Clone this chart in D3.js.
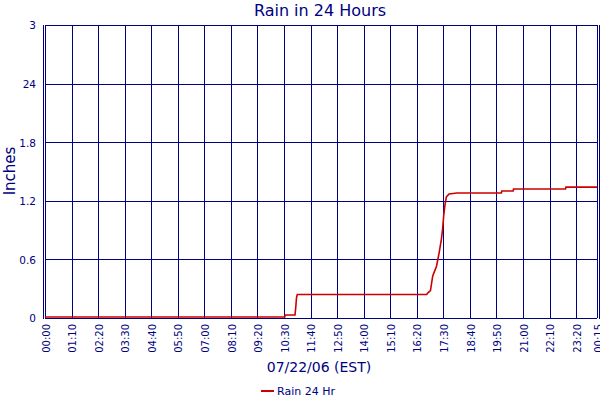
<!DOCTYPE html>
<html><head><meta charset="utf-8">
<script src="https://cdn.jsdelivr.net/npm/d3@7"></script>
<style>body{margin:0;background:#fff}svg{display:block;font-family:"DejaVu Sans",Verdana,sans-serif}</style>
</head><body><svg id="c" width="600" height="400"></svg>
<script>
const chartTitle = "Rain in 24 Hours";
const xTitle = "07/22/06 (EST)";
const yTitle = "Inches";
const seriesName = "Rain 24 Hr";
const xTickLabels = ["00:00","01:10","02:20","03:30","04:40","05:50","07:00","08:10","09:20","10:30","11:40","12:50","14:00","15:10","16:20","17:30","18:40","19:50","21:00","22:10","23:20","00:15"];
const xTickDates = ["2006-07-22 00:00","2006-07-22 01:10","2006-07-22 02:20","2006-07-22 03:30","2006-07-22 04:40","2006-07-22 05:50","2006-07-22 07:00","2006-07-22 08:10","2006-07-22 09:20","2006-07-22 10:30","2006-07-22 11:40","2006-07-22 12:50","2006-07-22 14:00","2006-07-22 15:10","2006-07-22 16:20","2006-07-22 17:30","2006-07-22 18:40","2006-07-22 19:50","2006-07-22 21:00","2006-07-22 22:10","2006-07-22 23:20","2006-07-23 00:15"];
const yTickValues = [0, 0.6, 1.2, 1.8, 2.4, 3];
const yTickLabels = ["0", "0.6", "1.2", "1.8", "24", "3"];
const times = ["2006-07-22 00:00","2006-07-22 10:32","2006-07-22 10:33","2006-07-22 10:59","2006-07-22 11:01","2006-07-22 11:03","2006-07-22 11:05","2006-07-22 16:46","2006-07-22 16:50","2006-07-22 16:56","2006-07-22 17:02","2006-07-22 17:07","2006-07-22 17:12","2006-07-22 17:19","2006-07-22 17:25","2006-07-22 17:28","2006-07-22 17:31","2006-07-22 17:34","2006-07-22 17:38","2006-07-22 17:45","2006-07-22 18:06","2006-07-22 20:03","2006-07-22 20:04","2006-07-22 20:34","2006-07-22 20:35","2006-07-22 22:52","2006-07-22 22:53","2006-07-23 00:15"];
const rain = [0,0,0.02,0.02,0.1,0.2,0.23,0.23,0.25,0.27,0.42,0.47,0.52,0.66,0.8,0.9,1.04,1.14,1.23,1.26,1.27,1.27,1.29,1.29,1.31,1.31,1.33,1.33];

const parse = d3.timeParse("%Y-%m-%d %H:%M");
const svg = d3.select("#c");
const navy = "#000080";
const pL = 45, pR = 597, pT = 25, pB = 318;

const x = d3.scaleTime().domain([parse(xTickDates[0]), parse(xTickDates[xTickDates.length-1])]).range([pL, pR]);
const y = d3.scaleLinear().domain([0, 3]).range([pB, pT]);

// grid
const tickDates = xTickDates.map(parse);
svg.append("g").selectAll("line").data(tickDates).join("line")
  .attr("x1", d => Math.round(x(d)) + 0.5).attr("x2", d => Math.round(x(d)) + 0.5)
  .attr("y1", pT).attr("y2", pB).attr("stroke", navy).attr("stroke-width", 1);
svg.append("g").selectAll("line").data(yTickValues).join("line")
  .attr("x1", pL).attr("x2", pR)
  .attr("y1", d => Math.round(y(d)) + 0.5).attr("y2", d => Math.round(y(d)) + 0.5)
  .attr("stroke", navy).attr("stroke-width", 1);
// double borders
svg.append("line").attr("x1", pL - 1.5).attr("x2", pL - 1.5).attr("y1", pT).attr("y2", pB + 1).attr("stroke", navy);
svg.append("line").attr("x1", pR + 2.5).attr("x2", pR + 2.5).attr("y1", pT).attr("y2", pB + 1).attr("stroke", navy);

// axes
const xAxis = d3.axisBottom(x).tickValues(tickDates).tickSize(0).tickFormat((d, i) => xTickLabels[i]);
const gx = svg.append("g").attr("transform", `translate(0.5,${pB})`).call(xAxis);
gx.select(".domain").remove();
gx.selectAll("text").attr("transform", "rotate(-90)").attr("text-anchor", "end")
  .attr("x", -6).attr("y", 0).attr("dy", "0.36em")
  .attr("fill", navy).style("font-size", "10px").style("font-family", "DejaVu Sans");

const yAxis = d3.axisLeft(y).tickValues(yTickValues).tickSize(0).tickPadding(8).tickFormat((d, i) => yTickLabels[i]);
const gy = svg.append("g").attr("transform", `translate(${pL - 1},0.5)`).call(yAxis);
gy.select(".domain").remove();
gy.selectAll("text").attr("fill", navy).style("font-size", "10.5px").style("font-family", "DejaVu Sans");

// line
const data = times.map((t, i) => ({t: parse(t), v: rain[i]}));
svg.append("path").datum(data)
  .attr("d", d3.line().x(d => x(d.t)).y(d => y(d.v) - 1))
  .attr("fill", "none").attr("stroke", "#cc0000").attr("stroke-width", 1.6);

// titles
svg.append("text").attr("x", 320).attr("y", 16).attr("text-anchor", "middle")
  .attr("fill", navy).style("font-size", "16px").text(chartTitle);
svg.append("text").attr("x", 319).attr("y", 372).attr("text-anchor", "middle")
  .attr("fill", navy).style("font-size", "14px").text(xTitle);
svg.append("text").attr("transform", "translate(15,171) rotate(-90)").attr("text-anchor", "middle")
  .attr("fill", navy).style("font-size", "15px").text(yTitle);

// legend
svg.append("line").attr("x1", 261).attr("x2", 274).attr("y1", 391).attr("y2", 391)
  .attr("stroke", "#cc0000").attr("stroke-width", 2);
svg.append("text").attr("x", 277).attr("y", 395).attr("fill", navy)
  .style("font-size", "11px").text(seriesName);
</script></body></html>
